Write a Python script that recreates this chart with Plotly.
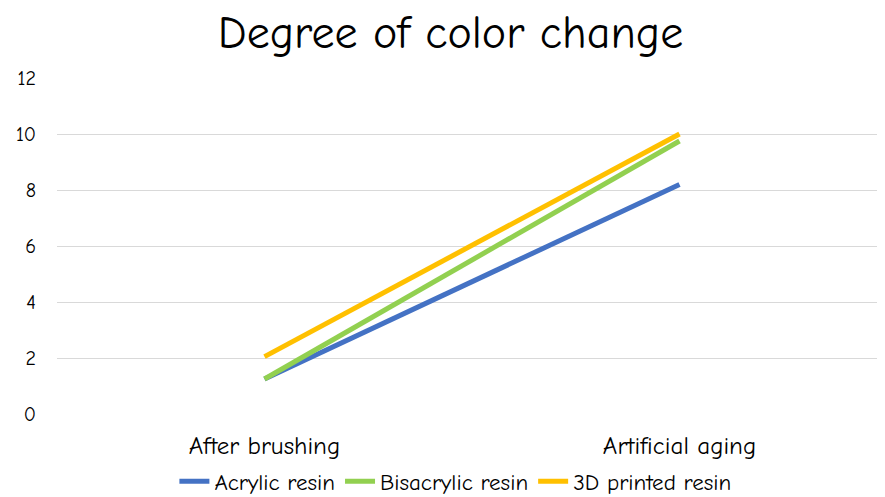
import plotly.graph_objects as go

categories = ["After brushing", "Artificial aging"]
acrylic = [1.25, 8.2]
bisacrylic = [1.25, 9.75]
printed3d = [2.05, 10.0]
series_names = ["Acrylic resin", "Bisacrylic resin", "3D printed resin"]
colors = ["#4472C4", "#92D050", "#FFC000"]

FONT = "Comic Sans MS, Comic Neue, Lato, sans-serif"

fig = go.Figure()
for name, vals, c in zip(series_names, [acrylic, bisacrylic, printed3d], colors):
    fig.add_trace(go.Scatter(x=categories, y=vals, mode="lines", name=name,
                             line=dict(color=c, width=5)))

fig.update_layout(
    width=885, height=497,
    margin=dict(l=49, r=6, t=70, b=91, autoexpand=False),
    paper_bgcolor="white", plot_bgcolor="white",
    font=dict(family=FONT, color="#000000"),
    title=dict(text="Degree of color change", x=0.5, xanchor="center",
               y=0.952, yanchor="middle", font=dict(size=46, family=FONT)),
    legend=dict(orientation="h", x=0.48, xanchor="center", y=-0.2, yanchor="middle",
                font=dict(size=23, family=FONT), itemwidth=30,
                bgcolor="rgba(0,0,0,0)", traceorder="normal"),
    showlegend=True,
)
fig.update_xaxes(type="category", range=[-0.5, 1.5], showgrid=False, zeroline=False,
                 showline=False, tickfont=dict(size=25, family=FONT),
                 ticklabelstandoff=14, automargin=False)
fig.update_yaxes(range=[0, 12], dtick=2, showgrid=True, gridcolor="#D9D9D9",
                 gridwidth=1, zeroline=False, showline=False,
                 tickfont=dict(size=20, family=FONT), ticklabelstandoff=20,
                 automargin=False)

fig.write_html("out.html")
